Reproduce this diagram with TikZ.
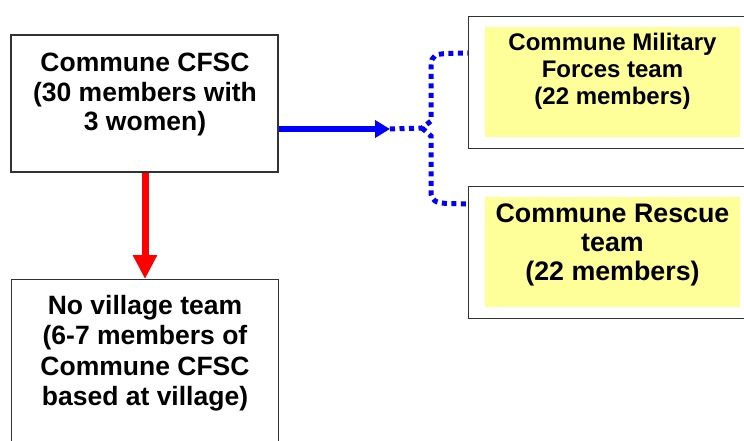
\documentclass[tikz,border=0pt]{standalone}
\usepackage{fontspec}
\setmainfont{Liberation Sans}
\usetikzlibrary{arrows.meta}
\definecolor{paleyellow}{RGB}{255,255,153}
\definecolor{boxline}{RGB}{50,50,50}
\begin{document}
\begin{tikzpicture}[x=1pt,y=-1pt,
  frame/.style={draw=boxline,line width=1.3pt,fill=white,inner sep=0pt},
  label/.style={font=\bfseries,align=center,inner sep=0pt,anchor=north},
  bigA/.style={label,font=\fontsize{26.5}{29.5}\selectfont\bfseries},
  bigB/.style={label,font=\fontsize{26.5}{30.5}\selectfont\bfseries},
  mid/.style={label,font=\fontsize{24}{27}\selectfont\bfseries},
  midb/.style={label,font=\fontsize{26.8}{28.8}\selectfont\bfseries},
  yellowpad/.style={fill=paleyellow,inner sep=0pt},
  redarrow/.style={draw=red,line width=7pt,-{Triangle[width=23pt,length=24pt]}},
  bluearrow/.style={draw=blue,line width=6pt,-{Triangle[width=17pt,length=15pt]}},
  bluedots/.style={draw=blue,line width=5pt,dash pattern=on 5pt off 4.5pt}
]
\useasboundingbox (0,0) rectangle (744,441);
\clip (0,0) rectangle (744,441);

% main commune committee
\node[frame,minimum width=267pt,minimum height=137pt] (cfsc) at (144.5,103.5) {};
\node[bigA] (cfsctxt) at (145,53) {Commune CFSC\\(30 members with\\3 women)};

% village team (runs past the lower edge)
\node[frame,minimum width=267pt,minimum height=190pt,anchor=north west] (village) at (11,279) {};
\node[bigB] (villagetxt) at (145,295) {No village team\\(6-7 members of\\Commune CFSC\\based at village)};

% military forces team
\node[frame,minimum width=290pt,minimum height=132pt,anchor=north west] (military) at (468,16) {};
\node[yellowpad,minimum width=255pt,minimum height=110pt,anchor=north west] (militarypad) at (485,27) {};
\node[mid] (militarytxt) at (612.5,32.5) {Commune Military\\Forces team\\(22 members)};

% rescue team
\node[frame,minimum width=290pt,minimum height=132pt,anchor=north west] (rescue) at (468,186) {};
\node[yellowpad,minimum width=255pt,minimum height=110pt,anchor=north west] (rescuepad) at (485,197) {};
\node[midb] (rescuetxt) at (612.5,204) {Commune Rescue\\team\\(22 members)};

% connectors
\coordinate (split) at (390,129);
\coordinate (fork) at (422,128);
\coordinate (milin) at (468,53);
\coordinate (resin) at (468,204);

\draw[redarrow] (cfsc.south -| 145,0) -- (village.north -| 145,0);
\draw[bluearrow] (cfsc.east |- split) -- (split);
\draw[bluedots] (split) -- (fork) -- (431,121) -- (431,66)
  .. controls (431,55) and (436,54) .. (448,53.5) -- (milin);
\draw[bluedots] (fork) -- (431,136) -- (431,192)
  .. controls (431,201) and (436,203) .. (448,203.5) -- (resin);
\end{tikzpicture}
\end{document}
